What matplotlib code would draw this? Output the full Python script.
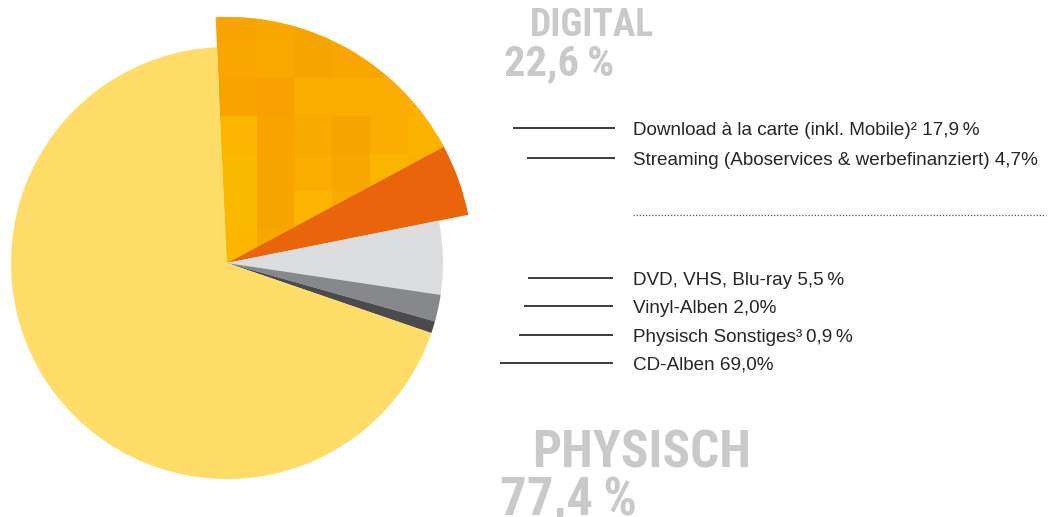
"""Musikmarkt-Umsatzanteile: digital vs. physisch, als Torte mit Beschriftung rechts."""

import matplotlib
matplotlib.use("Agg")
import matplotlib.pyplot as plt  # noqa: E402
import numpy as np  # noqa: E402
from matplotlib import font_manager, colors as mcolors  # noqa: E402

# --------------------------------------------------------------------------- data
SEGMENTS = ["Download à la carte (inkl. Mobile)", "Streaming (Aboservices & werbefinanziert)",
            "DVD, VHS, Blu-ray", "Vinyl-Alben", "Physisch Sonstiges", "CD-Alben"]
SHARES = [17.9, 4.7, 5.5, 2.0, 0.9, 69.0]
LABELS = ["Download à la carte (inkl. Mobile)\u00b2 17,9\u2009%",
          "Streaming (Aboservices & werbefinanziert) 4,7%",
          "DVD, VHS, Blu-ray 5,5\u2009%",
          "Vinyl-Alben 2,0%",
          "Physisch Sonstiges\u00b3\u20090,9\u2009%",
          "CD-Alben 69,0%"]
GROUPS = ["DIGITAL", "PHYSISCH"]
GROUP_TOTALS = ["22,6\u2009%", "77,4\u2009%"]
IS_DIGITAL = [True, True, False, False, False, False]

# --------------------------------------------------------------------------- style
W, H = 1048, 517
COLORS = ["#F9A800", "#E9640A", "#DCDDDF", "#87888A", "#4B4B4D", "#FEDC68"]
GREY_HEAD = "#C8C9CB"
CENTER = (227, H - 263)
R_PHYS, R_DIGI = 216, 246
START = 92.66

# hand-picked shades for the pixel texture in the download wedge
_TEX = [
    ["#F8A300", "#F9A600", "#F8A400", "#F9A500", "#F8A300", "#F9A600", "#F8A400"],
    ["#F9A700", "#F9A800", "#F8A400", "#F9A600", "#F9A500", "#F8A300", "#F9A700"],
    ["#F8A300", "#F7A000", "#FAAC00", "#FAAD00", "#FAAC00", "#FBAF00", "#F9AA00"],
    ["#FBB500", "#F8A300", "#F9AA00", "#F8A400", "#FAAC00", "#FBB300", "#FBB400"],
    ["#FBB800", "#F9A500", "#FAAC00", "#F9A600", "#FBB500", "#FAB000", "#FBB400"],
    ["#FBB800", "#F8A400", "#FBB400", "#FAAA00", "#FBB200", "#F9A900", "#FAAE00"],
    ["#FBB700", "#F9A700", "#FBB400", "#FAAE00", "#FAAE00", "#FAAD00", "#FAAE00"],
]
TEX_X0, TEX_TOP, TEX_CELL = 219, 4, 37.6


def pick(*names):
    have = {f.name for f in font_manager.fontManager.ttflist}
    for n in names:
        if n in have:
            return n
    return "DejaVu Sans"


LABEL_FONT = pick("Liberation Sans", "Arial", "Roboto")
HEAD_FONT = pick("Liberation Sans Narrow", "Roboto Condensed", "DejaVu Sans")

fig = plt.figure(figsize=(W / 100, H / 100), dpi=100)
ax = fig.add_axes([0, 0, 1, 1])

wedges, _ = ax.pie(SHARES, colors=COLORS, startangle=START, counterclock=False,
                   center=CENTER, radius=R_PHYS, wedgeprops=dict(linewidth=0),
                   frame=True)
for w, dig in zip(wedges, IS_DIGITAL):
    if dig:
        w.set_radius(R_DIGI)

# texture for the download wedge
tex = np.array([[mcolors.to_rgb(c) for c in row] for row in _TEX])
n = len(_TEX)
im = ax.imshow(tex, extent=(TEX_X0, TEX_X0 + n * TEX_CELL, H - TEX_TOP - n * TEX_CELL, H - TEX_TOP),
               interpolation="nearest", zorder=3)
im.set_clip_path(wedges[0])

ax.set_xlim(0, W)
ax.set_ylim(0, H)
ax.set_aspect("equal")
ax.axis("off")

# leader lines + labels (pixel coordinates from top)
LINE_Y = [128, 158, 278, 306, 335, 363]
LINE_X0 = [513, 527, 528, 524, 519, 500]
LINE_X1 = [615, 615, 613, 613, 613, 613]
for lab, y, x0, x1 in zip(LABELS, LINE_Y, LINE_X0, LINE_X1):
    ax.plot([x0, x1], [H - y, H - y], color="#1a1a1a", lw=1.2, solid_capstyle="butt")
    ax.text(633, H - y - 7, lab, fontsize=13.6, family=LABEL_FONT, color="#262626",
            va="baseline", ha="left")

ax.plot([633, 1046], [H - 215, H - 215], color="#555555", lw=0.9, ls=(0, (1, 1.5)))

head_kw = dict(family=HEAD_FONT, weight="bold", color=GREY_HEAD, va="baseline", ha="left")
ax.text(530, H - 36, GROUPS[0], fontsize=27, **head_kw)
ax.text(504, H - 75, GROUP_TOTALS[0], fontsize=30.5, **head_kw)
ax.text(532, H - 467, GROUPS[1], fontsize=37, **head_kw)
ax.text(500, H - 515, GROUP_TOTALS[1], fontsize=38, **head_kw)

fig.savefig("out.png", dpi=100, facecolor="white")
